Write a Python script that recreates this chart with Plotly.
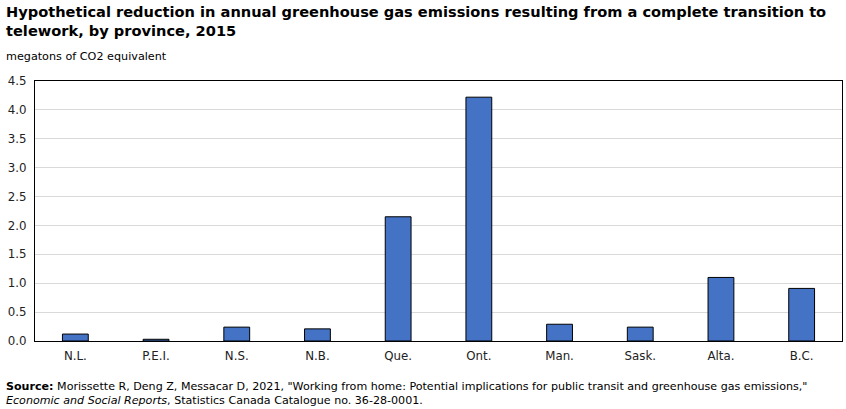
import plotly.graph_objects as go

provinces = ["N.L.", "P.E.I.", "N.S.", "N.B.", "Que.", "Ont.", "Man.", "Sask.", "Alta.", "B.C."]
reduction = [0.12, 0.03, 0.24, 0.21, 2.15, 4.22, 0.29, 0.24, 1.10, 0.91]
y_ticks = [0.0, 0.5, 1.0, 1.5, 2.0, 2.5, 3.0, 3.5, 4.0, 4.5]

font_family = "Verdana, DejaVu Sans, sans-serif"

PW, PH = 807, 260  # plot area size in px

fig = go.Figure()
fig.add_trace(go.Bar(
    x=provinces, y=reduction,
    marker=dict(color="#4472C4", line=dict(color="#000000", width=1)),
    width=0.32,
    hoverinfo="x+y",
))

fig.update_layout(
    width=846, height=409,
    margin=dict(l=35, r=4, t=81, b=68, autoexpand=False),
    paper_bgcolor="white", plot_bgcolor="white",
    showlegend=False,
    font=dict(family=font_family, size=11, color="#222222"),
    xaxis=dict(
        type="category", showgrid=False, showline=True, linecolor="#000000", linewidth=1.3,
        mirror=True, ticks="", tickfont=dict(size=11.8, color="#222222"), automargin=False,
        ticklabelstandoff=4,
    ),
    yaxis=dict(
        range=[0, 4.5], tickvals=y_ticks, ticktext=[f"{v:.1f}" for v in y_ticks],
        showgrid=True, gridcolor="#d9d9d9", gridwidth=1,
        showline=True, linecolor="#000000", linewidth=1.3, mirror=True,
        zeroline=False, ticks="", tickfont=dict(size=11.8, color="#222222"), automargin=False,
        ticklabelstandoff=5,
    ),
)

fig.add_annotation(
    xref="paper", yref="paper", x=-31/PW, y=1 + 80/PH, xanchor="left", yanchor="top",
    text="<b>Hypothetical reduction in annual greenhouse gas emissions resulting from a complete transition to<br>telework, by province, 2015</b>",
    showarrow=False, align="left",
    font=dict(family=font_family, size=14.6, color="#000000"),
)
fig.add_annotation(
    xref="paper", yref="paper", x=-31/PW, y=1 + 24/PH, xanchor="left", yanchor="middle",
    text="megatons of CO2 equivalent", showarrow=False, align="left",
    font=dict(family=font_family, size=11.2, color="#000000"),
)
fig.add_annotation(
    xref="paper", yref="paper", x=-31/PW, y=-37/PH, xanchor="left", yanchor="top",
    text="<b>Source:</b> Morissette R, Deng Z, Messacar D, 2021, \"Working from home: Potential implications for public transit and greenhouse gas emissions,\"<br><i>Economic and Social Reports</i>, Statistics Canada Catalogue no. 36-28-0001.",
    showarrow=False, align="left",
    font=dict(family=font_family, size=11.1, color="#000000"),
)

fig.write_html(
    "out.html",
    config={"displayModeBar": False},
    post_script="document.body.style.margin='0';document.body.style.overflow='hidden';",
)
